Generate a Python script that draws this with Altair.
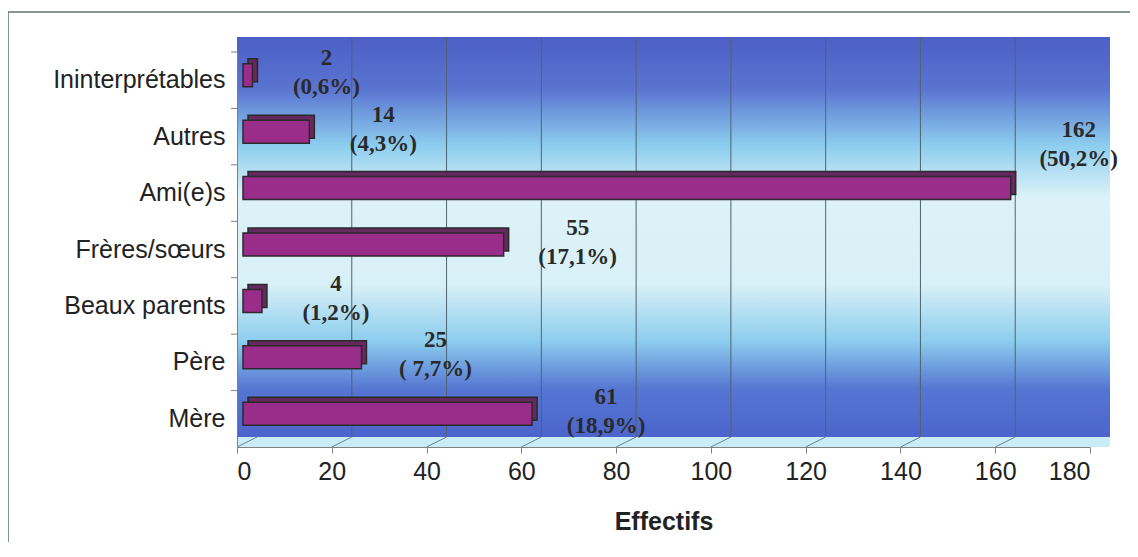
import altair as alt
import pandas as pd

# ---- data ----
categories = ["Ininterprétables", "Autres", "Ami(e)s", "Frères/sœurs",
              "Beaux parents", "Père", "Mère"]
counts = [2, 14, 162, 55, 4, 25, 61]
percents = ["(0,6%)", "(4,3%)", "(50,2%)", "(17,1%)", "(1,2%)", "( 7,7%)", "(18,9%)"]
x_ticks = [0, 20, 40, 60, 80, 100, 120, 140, 160, 180]

df = pd.DataFrame({"cat": categories, "n": counts, "pct": percents})
df["label"] = df["n"].astype(str) + "\n" + df["pct"]
grid_df = pd.DataFrame({"v": x_ticks[1:-1]})
floor_df = pd.DataFrame({"v": x_ticks[:-1]})
one = pd.DataFrame({"k": [0]})

W, H = 853, 395
DX, DY = 20, 10   # depth of the 3D wall

xsc = alt.Scale(domain=[0, 180], nice=False, zero=True)
ysc = alt.Scale(domain=categories, paddingInner=0, paddingOuter=0)

x_axis = alt.Axis(values=x_ticks, title="Effectifs", grid=False, zindex=1,
                  tickSize=6, tickColor="#808080", domainColor="#808080",
                  labelFont="Liberation Sans", labelFontSize=25, labelColor="#222222",
                  labelPadding=6, titleFont="Liberation Sans", titleFontSize=25,
                  titleFontWeight="bold", titleColor="#222222", titlePadding=25)
y_axis = alt.Axis(title=None, ticks=False, zindex=1, domainColor="#808080",
                  labelFont="Liberation Sans", labelFontSize=25, labelColor="#222222",
                  labelPadding=12)

X = lambda f: alt.X(f, scale=xsc, axis=x_axis)
Y = lambda f, **kw: alt.Y(f, scale=ysc, axis=y_axis, sort=categories, **kw)

wall_grad = alt.Gradient(
    gradient="linear", x1=0, y1=0, x2=0, y2=1,
    stops=[
        alt.GradientStop(color="#4c5fc6", offset=0.0),
        alt.GradientStop(color="#5a74d0", offset=0.13),
        alt.GradientStop(color="#8ccdee", offset=0.27),
        alt.GradientStop(color="#dcf2f8", offset=0.40),
        alt.GradientStop(color="#d8f0f7", offset=0.62),
        alt.GradientStop(color="#8ccdee", offset=0.76),
        alt.GradientStop(color="#5676d2", offset=0.88),
        alt.GradientStop(color="#4c64cc", offset=1.0),
    ],
)

wall = alt.Chart(one).mark_rect(fill=wall_grad).encode(
    x=alt.value(0), x2=alt.value(W + DX), y=alt.value(-15), y2=alt.value(H - DY)
)
floor = alt.Chart(one).mark_rect(fill="#c9ecf6").encode(
    x=alt.value(0), x2=alt.value(W + DX), y=alt.value(H - DY), y2=alt.value(H)
)
grid = alt.Chart(grid_df).mark_rule(color="#4e6470", strokeWidth=1, xOffset=DX).encode(
    x=X("v:Q"), y=alt.value(-15), y2=alt.value(H - DY)
)
floor_lines = alt.Chart(floor_df).mark_rule(color="#6c8490", strokeWidth=1, x2Offset=DX).encode(
    x=X("v:Q"), x2="v:Q", y=alt.value(H), y2=alt.value(H - DY)
)

bar_depth = alt.Chart(df).mark_bar(
    height=23, xOffset=11, x2Offset=11, yOffset=-10,
    fill="#66295f", stroke="#2a2a2a", strokeWidth=1.5
).encode(x=X("zero:Q"), x2="n:Q", y=Y("cat:N")).transform_calculate(zero="0")

bar_front = alt.Chart(df).mark_bar(
    height=23, xOffset=6, x2Offset=6, yOffset=-5,
    fill="#9b2d8a", stroke="#2a2a2a", strokeWidth=1.5
).encode(x=X("zero:Q"), x2="n:Q", y=Y("cat:N")).transform_calculate(zero="0")

text_style = dict(align="center", baseline="middle", lineBreak="\n", lineHeight=29,
                  font="Liberation Serif", fontWeight="bold", fontSize=23, color="#2a2a2a")
labels = alt.Chart(df).transform_filter(alt.datum.cat != "Ami(e)s").mark_text(
    dx=80, dy=-22, **text_style
).encode(x=X("n:Q"), y=Y("cat:N"), text="label:N")
label_top = alt.Chart(df).transform_filter(alt.datum.cat == "Ami(e)s").mark_text(
    dx=74, dy=-63, **text_style
).encode(x=X("n:Q"), y=Y("cat:N"), text="label:N")

y_ticks = alt.Chart(df).mark_rule(color="#808080", strokeWidth=1).encode(
    x=alt.value(-6), x2=alt.value(0), y=Y("cat:N", bandPosition=0)
)

frame_top = alt.Chart(one).mark_rule(color="#5f7272", strokeWidth=1.5).encode(
    x=alt.value(-229), x2=alt.value(W + 40), y=alt.value(-40)
)
frame_left = alt.Chart(one).mark_rule(color="#5f7272", strokeWidth=1.5).encode(
    x=alt.value(-229), y=alt.value(-40), y2=alt.value(H + 100)
)

chart = alt.layer(
    wall, floor, grid, floor_lines, bar_depth, bar_front, labels, label_top,
    y_ticks, frame_top, frame_left
).properties(
    width=W, height=H, autosize="none",
    padding={"left": 229, "top": 44, "right": 40, "bottom": 95},
    background="white",
).configure_view(stroke=None)

chart.save("out.html", embed_options={"renderer": "svg", "actions": False})
